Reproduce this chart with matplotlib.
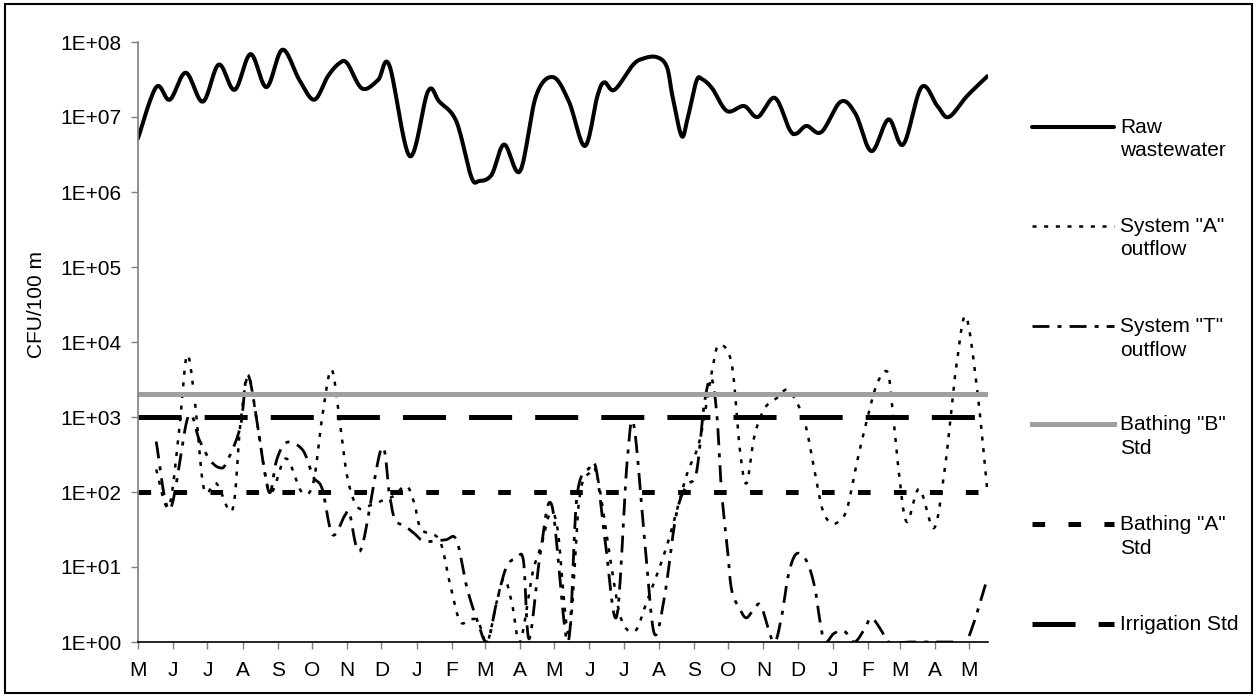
import numpy as np
import pandas as pd
import matplotlib
matplotlib.use('Agg')
import matplotlib.pyplot as plt
import matplotlib.dates as mdates
from matplotlib.lines import Line2D
from matplotlib.patches import Rectangle
from matplotlib.ticker import NullLocator

plt.rcParams['font.family'] = ['Liberation Sans', 'DejaVu Sans']
plt.rcParams['lines.scale_dashes'] = False

# sampling days counted from 1 May 2003, CFU/100 ml
start = pd.Timestamp('2003-05-01')

raw_day = [0, 16, 28, 42, 57, 71, 85, 99, 113, 127, 142, 155, 167, 177, 184, 197, 211, 221,
           239, 255, 265, 280, 293, 300, 311, 322, 336, 350, 365, 379, 393, 404, 410, 419, 435,
           444, 456, 465, 470, 478, 483, 491, 496, 505, 518, 533, 545, 560, 573, 579, 588, 601,
           618, 631, 645, 660, 673, 689, 703, 713, 729, 747]
raw_cfu = [5.2e6, 2.5e7, 1.7e7, 3.9e7, 1.6e7, 5.0e7, 2.3e7, 6.9e7, 2.5e7, 7.9e7, 3.1e7, 1.7e7,
           3.5e7, 5.2e7, 5.2e7, 2.4e7, 3.1e7, 4.9e7, 3.0e6, 2.2e7, 1.6e7, 8.7e6, 1.6e6, 1.4e6,
           1.7e6, 4.3e6, 1.9e6, 1.9e7, 3.4e7, 1.6e7, 4.1e6, 1.9e7, 2.9e7, 2.3e7, 4.9e7, 6.0e7,
           6.3e7, 4.7e7, 1.9e7, 5.6e6, 9.1e6, 3.0e7, 3.2e7, 2.4e7, 1.2e7, 1.4e7, 1.0e7, 1.8e7,
           6.8e6, 6.0e6, 7.6e6, 6.3e6, 1.6e7, 1.1e7, 3.5e6, 9.3e6, 4.3e6, 2.5e7, 1.4e7, 1.0e7,
           1.9e7, 3.5e7]

sysA_day = [16, 27, 36, 43, 50, 58, 69, 83, 90, 97, 105, 116, 130, 144, 154, 162, 170, 177,
            184, 193, 204, 214, 224, 236, 243, 249, 265, 274, 283, 292, 299, 307, 315, 322,
            329, 336, 347, 355, 362, 369, 379, 388, 397, 404, 416, 425, 437, 447, 465, 482,
            494, 505, 511, 522, 529, 535, 542, 551, 562, 571, 581, 588, 595, 602, 610, 618,
            624, 632, 641, 650, 659, 663, 669, 676, 687, 700, 709, 715, 720, 728, 738, 747]
sysA_cfu = [200, 63, 630, 6600, 1600, 110, 130, 58, 800, 3500, 800, 100, 280, 100, 130, 1000,
            4300, 1000, 160, 63, 66, 76, 87, 120, 71, 32, 23, 6.3, 1.9, 2.0, 1.9, 1.0, 3.2, 7.1,
            3.2, 1.0, 8.3, 20, 50, 32, 1.3, 79, 180, 160, 11, 2.0, 1.4, 3.3, 19, 160, 490, 4300,
            9100, 5200, 400, 130, 550, 1300, 1800, 2300, 1400, 680, 190, 58, 38, 43, 63, 240,
            910, 2800, 4000, 1500, 190, 40, 110, 33, 180, 1100, 5200, 22000, 2300, 100]

sysT_day = [16, 28, 44, 54, 63, 72, 78, 90, 97, 110, 116, 122, 131, 145, 154, 162, 171, 182,
            186, 196, 214, 221, 226, 235, 243, 252, 270, 280, 289, 298, 307, 315, 324, 333,
            339, 344, 354, 364, 378, 386, 397, 403, 411, 421, 430, 436, 446, 454, 463, 473,
            482, 491, 498, 504, 509, 513, 518, 522, 529, 535, 542, 548, 559, 566, 572, 579,
            588, 595, 599, 604, 612, 621, 630, 639, 645, 654, 660, 680, 700, 720, 728, 735,
            742, 747]
sysT_cfu = [470, 58, 1000, 490, 270, 210, 250, 740, 3600, 250, 98, 270, 460, 360, 160, 110, 27,
            49, 52, 17, 380, 95, 43, 35, 28, 22, 23, 23, 5.5, 2.0, 1.0, 3.2, 10, 13, 12, 1.1, 16,
            66, 1.0, 87, 210, 200, 21, 2.2, 240, 780, 19, 1.3, 4.0, 47, 120, 180, 1500, 3300,
            1100, 110, 20, 5.0, 2.8, 2.1, 2.8, 3.0, 1.0, 2.2, 7.9, 15, 12, 5.5, 2.2, 1.0, 1.3,
            1.4, 1.0, 1.5, 2.1, 1.4, 1.0, 1.0, 1.0, 1.0, 1.0, 1.8, 4.0, 7.1]

bathing_b = 2000
bathing_a = 100
irrigation = 1000

labels = ['Raw\nwastewater', 'System "A"\noutflow', 'System "T"\noutflow',
          'Bathing "B"\nStd', 'Bathing "A"\nStd', 'Irrigation Std']


def smooth(days, vals, n=16):
    # excel-like smoothed line (bezier through the points), done in log space
    p = np.column_stack([np.asarray(days, float), np.log10(vals)])
    p = np.vstack([p[0], p, p[-1]])
    out = []
    t = np.linspace(0, 1, n)[:, None]
    for i in range(1, len(p) - 2):
        p0, p1, p2, p3 = p[i - 1], p[i], p[i + 1], p[i + 2]
        c1 = p1 + (p2 - p0) / 6
        c2 = p2 - (p3 - p1) / 6
        seg = (1 - t)**3 * p1 + 3 * (1 - t)**2 * t * c1 + 3 * (1 - t) * t**2 * c2 + t**3 * p2
        out.append(seg if i == 1 else seg[1:])
    s = np.vstack(out)
    return mdates.date2num(start) + s[:, 0], 10**s[:, 1]


W, H = 1257, 697
fig = plt.figure(figsize=(W / 100, H / 100), dpi=100)
ax = fig.add_axes([138 / W, 1 - 642 / H, 850 / W, 600 / H])

styles = [
    dict(color='black', lw=2.9, solid_joinstyle='round', solid_capstyle='round'),
    dict(color='black', lw=1.8, dashes=(2.9, 5.5)),
    dict(color='black', lw=2.0, dashes=(12.2, 5.8, 2.9, 5.8)),
    dict(color='#a0a0a0', lw=3.6),
    dict(color='black', lw=3.6, dashes=(9.1, 16.8)),
    dict(color='black', lw=3.6, dashes=(31, 16.6)),
]

for d, v, st in [(raw_day, raw_cfu, styles[0]), (sysA_day, sysA_cfu, styles[1]),
                 (sysT_day, sysT_cfu, styles[2])]:
    xs, ys = smooth(d, v)
    ax.plot(xs, ys, **st)

ax.axhline(bathing_b, **styles[3])
ax.axhline(bathing_a, **styles[4])
ax.axhline(irrigation, **styles[5])

x0 = mdates.date2num(start)
ax.set_xlim(x0, x0 + 747.5)
ax.set_yscale('log')
ax.set_ylim(1, 1e8)

ax.set_yticks([10.0**k for k in range(9)])
ax.set_yticklabels(['1E+%02d' % k for k in range(9)])
ax.yaxis.set_minor_locator(NullLocator())

months = pd.date_range('2003-05-01', '2005-05-01', freq='MS')
ax.set_xticks(mdates.date2num(months))
ax.set_xticklabels([m.strftime('%b')[0] for m in months])

ax.tick_params(axis='y', direction='out', length=5, width=1, color='#808080', pad=7, labelsize=15)
ax.tick_params(axis='x', direction='out', length=5, width=1, color='#808080', pad=9, labelsize=15)
ax.spines['top'].set_visible(False)
ax.spines['right'].set_visible(False)
ax.spines['left'].set_color('#808080')
ax.spines['left'].set_linewidth(1.2)
ax.spines['bottom'].set_color('black')
ax.spines['bottom'].set_linewidth(1.2)

fig.text(37 / W, 1 - 304 / H, 'CFU/100 m', rotation=90, ha='center', va='center', fontsize=15)

# legend drawn by hand so the line sits on the first text row
rows = [127, 226, 326, 424, 524, 624]
for lab, st, y in zip(labels, styles, rows):
    yf = 1 - y / H
    fig.add_artist(Line2D([1032 / W, 1114 / W], [yf, yf], transform=fig.transFigure, **st))
    fig.text(1120 / W, 1 - (y - 9) / H, lab, ha='left', va='top', fontsize=15, linespacing=1.3)

fig.add_artist(Rectangle((5 / W, 4 / H), 1247 / W, 689 / H, transform=fig.transFigure,
                         fill=False, edgecolor='black', lw=1.5))

fig.savefig('out.png', dpi=100)
